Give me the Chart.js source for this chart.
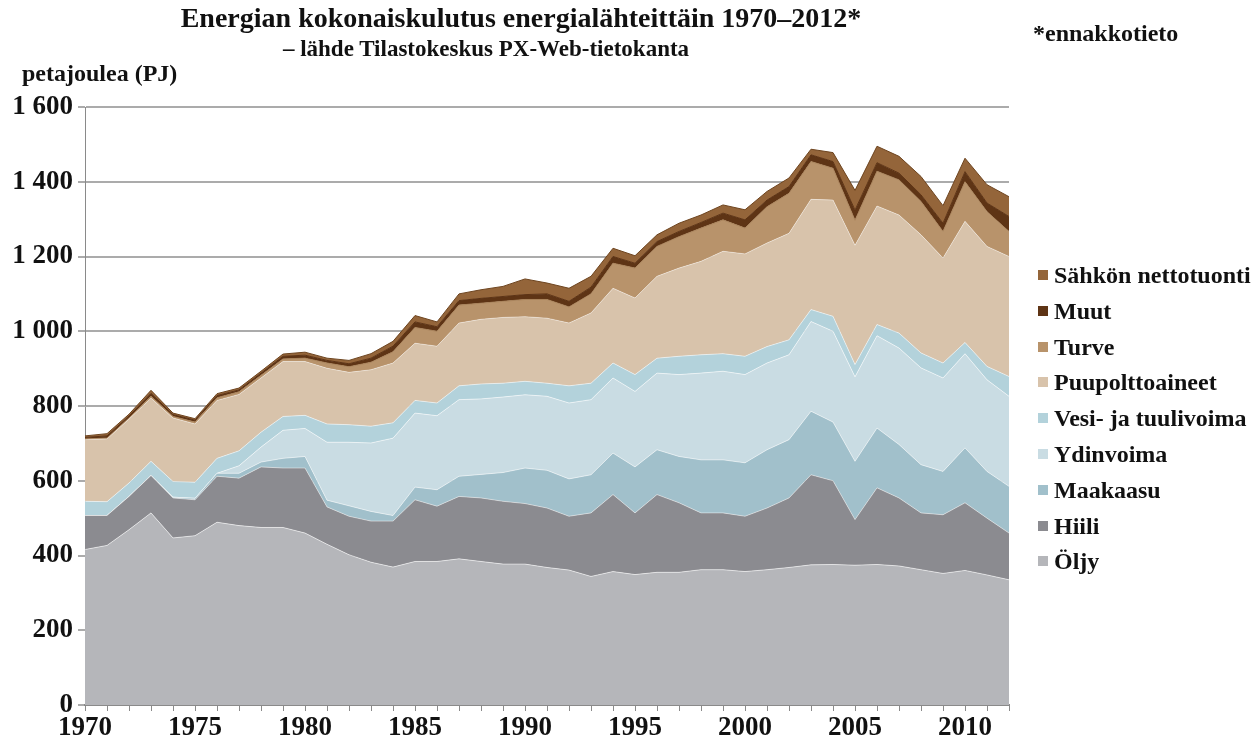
<!DOCTYPE html>
<html lang="fi">
<head>
<meta charset="utf-8">
<title>Energian kokonaiskulutus energialähteittäin 1970–2012</title>
<script src="https://cdn.jsdelivr.net/npm/chart.js"></script>
<style>
  html, body { margin: 0; padding: 0; background: #fff; }
  #wrap {
    position: relative; width: 1260px; height: 746px;
    font-family: "Liberation Serif", "Times New Roman", serif;
    font-weight: bold; color: #111;
  }
  #chart { position: absolute; left: 0; top: 0; }
  .txt { position: absolute; white-space: nowrap; line-height: 1; }
  #title { left: 521px; top: 4px; font-size: 28px; transform: translateX(-50%); }
  #subtitle { left: 486px; top: 37px; font-size: 23px; transform: translateX(-50%); }
  #note { left: 1033px; top: 21px; font-size: 24px; }
  #unit { left: 22px; top: 61px; font-size: 24px; }
  .leg { position: absolute; left: 1038px; font-size: 24px; line-height: 1; white-space: nowrap; }
  .leg i { display: inline-block; width: 10px; height: 10px; margin-right: 6px; vertical-align: 3px; }
</style>
</head>
<body>
<div id="wrap">
  <canvas id="chart" width="1260" height="746"></canvas>
  <div class="txt" id="title">Energian kokonaiskulutus energialähteittäin 1970–2012*</div>
  <div class="txt" id="subtitle">– lähde Tilastokeskus PX-Web-tietokanta</div>
  <div class="txt" id="note">*ennakkotieto</div>
  <div class="txt" id="unit">petajoulea (PJ)</div>
  <div id="legend"></div>
</div>
<script>
// years on the x axis
const years = [1970,1971,1972,1973,1974,1975,1976,1977,1978,1979,
               1980,1981,1982,1983,1984,1985,1986,1987,1988,1989,
               1990,1991,1992,1993,1994,1995,1996,1997,1998,1999,
               2000,2001,2002,2003,2004,2005,2006,2007,2008,2009,
               2010,2011,2012];
const xTickYears = [1970,1975,1980,1985,1990,1995,2000,2005,2010];
const yTickLabels = ["0","200","400","600","800","1 000","1 200","1 400","1 600"];

// PJ per source
const oljy = [416,427,469,514,447,453,489,480,475,475,
              460,430,402,382,369,384,384,391,384,377,
              377,368,361,344,357,349,355,355,362,362,
              357,362,368,375,376,374,376,372,362,352,
              360,348,335];
const hiili = [91,80,89,100,107,96,123,127,162,159,
               174,100,103,110,123,165,148,167,170,168,
               162,159,144,170,206,165,208,186,152,152,
               148,165,186,241,224,122,205,182,152,157,
               181,152,125];
const maakaasu = [0,0,0,0,2,4,8,13,13,26,
                  31,18,28,26,15,34,44,54,63,77,
                  95,101,100,102,111,123,120,124,142,142,
                  143,156,156,170,157,156,160,143,129,116,
                  147,125,125];
const ydinvoima = [0,0,0,0,0,0,0,20,40,75,
                   75,155,170,183,207,198,198,205,202,202,
                   196,198,203,201,201,202,205,219,232,237,
                   236,232,227,240,243,226,247,258,259,250,
                   252,245,241];
const vesiTuuli = [38,37,36,38,42,43,40,40,40,37,
                   35,49,47,45,41,34,34,37,40,37,
                   36,35,46,44,40,45,40,49,49,47,
                   49,44,40,32,40,33,30,40,40,40,
                   30,36,53];
const puu = [165,168,171,169,170,156,155,151,145,147,
             144,149,140,151,160,153,152,168,173,176,
             173,174,168,188,200,205,219,236,250,274,
             274,277,285,295,311,319,317,316,316,281,
             324,321,321];
const turve = [2,2,3,5,4,5,7,7,7,7,
               9,14,15,20,30,42,40,48,43,43,
               46,50,43,51,67,80,80,84,89,84,
               69,97,107,101,85,67,93,94,89,71,
               106,93,67];
const muut = [4,6,5,8,5,5,6,5,6,7,
              8,7,8,11,15,15,12,12,13,13,
              13,15,15,18,18,13,13,14,15,18,
              22,18,18,18,18,27,23,18,18,22,
              27,23,40];
const sahko = [4,6,5,8,4,4,5,5,5,6,
               8,6,9,12,13,17,13,18,23,27,
               42,29,35,29,22,20,18,22,20,22,
               27,23,23,15,24,53,44,45,49,47,
               36,49,53];

// bottom to top
const series = [
  { name: "Öljy", data: oljy, color: "#b5b6ba", line: "rgba(255,255,255,0.55)" },
  { name: "Hiili", data: hiili, color: "#8b8b90", line: "rgba(255,255,255,0.45)" },
  { name: "Maakaasu", data: maakaasu, color: "#a1c0cb", line: "rgba(255,255,255,0.55)" },
  { name: "Ydinvoima", data: ydinvoima, color: "#c9dce3", line: "rgba(255,255,255,0.55)" },
  { name: "Vesi- ja tuulivoima", data: vesiTuuli, color: "#b3d2db", line: "rgba(255,255,255,0.5)" },
  { name: "Puupolttoaineet", data: puu, color: "#d8c3ab", line: "rgba(255,255,255,0.4)" },
  { name: "Turve", data: turve, color: "#b8936b", line: "#a9835b" },
  { name: "Muut", data: muut, color: "#5e3415", line: "#5e3415" },
  { name: "Sähkön nettotuonti", data: sahko, color: "#94653a", line: "#6e4520" }
];

Chart.defaults.font.family = "'Liberation Serif', 'Times New Roman', serif";
Chart.defaults.font.weight = "bold";
Chart.defaults.color = "#111";

const ctx = document.getElementById("chart").getContext("2d");

new Chart(ctx, {
  type: "line",
  data: {
    labels: years,
    datasets: series.map((s, i) => ({
      label: s.name,
      data: s.data,
      backgroundColor: s.color,
      borderColor: s.line,
      borderWidth: 1,
      pointRadius: 0,
      tension: 0,
      fill: i === 0 ? "origin" : "-1"
    }))
  },
  options: {
    responsive: false,
    animation: false,
    layout: { padding: { top: 107, right: 251, left: 0, bottom: 0 } },
    plugins: {
      legend: { display: false },
      tooltip: { enabled: false }
    },
    scales: {
      x: {
        grid: { display: true, drawOnChartArea: false, drawTicks: true, tickLength: 6, color: "#8a8a8a" },
        border: { color: "#8a8a8a", width: 2 },
        ticks: {
          autoSkip: false, maxRotation: 0, padding: 1,
          font: { size: 27, weight: "bold" },
          callback: function(v, i) {
            return xTickYears.includes(years[i]) ? String(years[i]) : "";
          }
        },
        afterFit: function(s) { s.height = 41; }
      },
      y: {
        stacked: true,
        min: 0, max: 1600,
        grid: { color: "#ababab", lineWidth: 2, tickLength: 7 },
        border: { color: "#8a8a8a", width: 1 },
        ticks: {
          stepSize: 200, padding: 5,
          font: { size: 27, weight: "bold" },
          callback: function(v, i) { return yTickLabels[i]; }
        },
        afterFit: function(s) { s.width = 85; }
      }
    }
  }
});

// legend, top item = top layer
const legend = document.getElementById("legend");
series.slice().reverse().forEach((s, k) => {
  const d = document.createElement("div");
  d.className = "leg";
  d.style.top = (263 + k * 35.8) + "px";
  d.innerHTML = '<i style="background:' + s.color + '"></i>' + s.name;
  legend.appendChild(d);
});
</script>
</body>
</html>
